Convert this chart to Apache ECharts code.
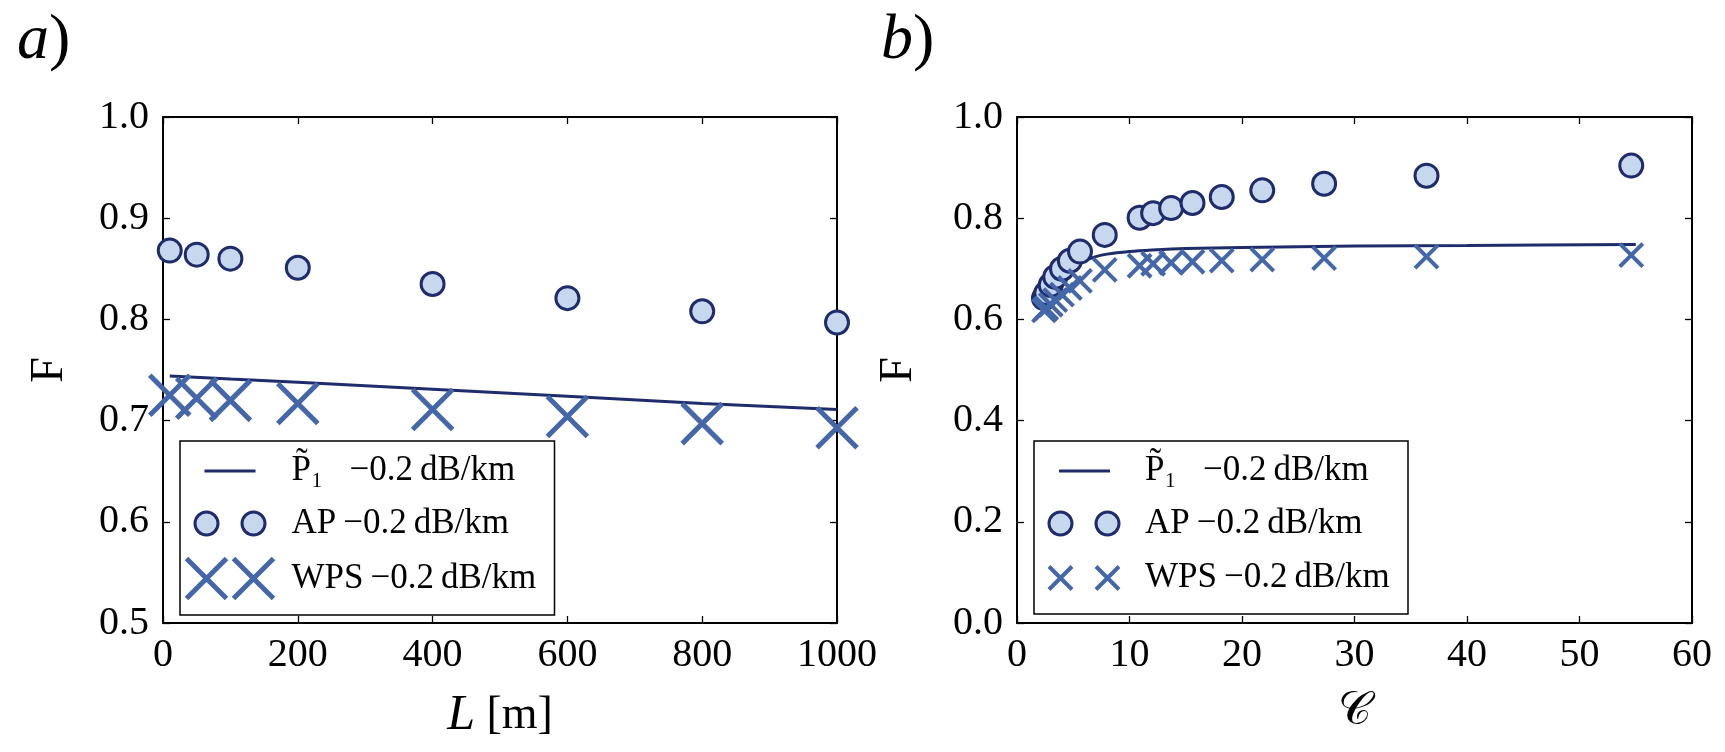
<!DOCTYPE html>
<html>
<head>
<meta charset="utf-8">
<script src="https://cdn.jsdelivr.net/npm/echarts@6/dist/echarts.min.js"></script>
<style>
  html, body { margin: 0; padding: 0; background: #fff; }
  #chart { width: 1725px; height: 752px; }
</style>
</head>
<body>
<div id="chart"></div>
<script>
// ---------- data ----------
const leftL      = [10, 50, 100, 200, 400, 600, 800, 1000];
const leftAP     = [0.868, 0.864, 0.860, 0.851, 0.835, 0.821, 0.808, 0.797];
const leftWPS    = [0.725, 0.722, 0.720, 0.717, 0.711, 0.704, 0.697, 0.693];
const leftLineL  = [10, 100, 200, 400, 600, 800, 1000];
const leftLineF  = [0.744, 0.741, 0.738, 0.731, 0.724, 0.717, 0.711];

const rightC     = [2.4, 2.6, 3.0, 3.4, 4.0, 4.7, 5.6, 7.8, 10.9, 12.1, 13.7, 15.6, 18.2, 21.8, 27.3, 36.4, 54.6];
const rightAP    = [0.642, 0.652, 0.668, 0.684, 0.700, 0.716, 0.734, 0.767, 0.801, 0.810, 0.820, 0.830, 0.842, 0.855, 0.868, 0.884, 0.904];
const rightWPS   = [0.618, 0.622, 0.629, 0.638, 0.649, 0.662, 0.676, 0.698, 0.706, 0.710, 0.712, 0.714, 0.716, 0.718, 0.721, 0.724, 0.727];
const rightLineC = [2.4, 3.0, 3.5, 4.0, 5.0, 6.0, 7.0, 8.0, 10, 12, 15, 20, 30, 40, 55];
const rightLineF = [0.632, 0.656, 0.672, 0.686, 0.704, 0.716, 0.724, 0.729, 0.734, 0.737, 0.740, 0.742, 0.745, 0.746, 0.748];

const leftXTicks  = {min: 0, max: 1000, interval: 200};
const leftYTicks  = {min: 0.5, max: 1.0, interval: 0.1};
const rightXTicks = {min: 0, max: 60, interval: 10};
const rightYTicks = {min: 0, max: 1.0, interval: 0.2};

const legendLabels = {
  P1: '{t|P\u0303\u2081}   \u22120.2\u2009dB/km',
  AP: '{t|AP}\u2009\u22120.2\u2009dB/km',
  WPS: '{t|WPS}\u2009\u22120.2\u2009dB/km'
};

// ---------- styles ----------
const SERIF = "'Liberation Serif', 'DejaVu Serif', serif";
const NAVY = '#1f2c6b';
const CIRCLE_FILL = '#c7d7ee';
const CROSS = '#4467aa';
const CROSS_PATH = 'path://M0,0L10,10M10,0L0,10';

function pairZip(xs, ys) { return xs.map((x, i) => [x, ys[i]]); }

function axisSet(grid, t, isX, withLabel, pos, name, nameGap, nameRich) {
  const a = {
    type: 'value', gridIndex: grid, position: pos,
    min: t.min, max: t.max, interval: t.interval,
    axisLine: {show: true, onZero: false, lineStyle: {color: '#000', width: 2}},
    axisTick: {show: true, inside: true, length: 7, lineStyle: {color: '#000', width: 1.3}},
    axisLabel: {show: withLabel, color: '#000', fontFamily: SERIF, fontSize: 40,
      margin: isX ? 12 : 14,
      formatter: isX ? (v => String(Math.round(v))) : (v => v.toFixed(1))},
    splitLine: {show: false}
  };
  if (name) {
    a.name = name;
    a.nameLocation = 'middle';
    a.nameGap = nameGap;
    a.nameTextStyle = {color: '#000', fontFamily: SERIF, fontSize: 46, rich: nameRich || {}};
  }
  return a;
}

const italicRich = {
  i: {fontStyle: 'italic', fontFamily: SERIF, fontSize: 50, color: '#000'},
  c: {fontFamily: "'DejaVu Sans', 'DejaVu Serif', 'Noto Sans', serif", fontSize: 46, color: '#000'}
};

const option = {
  animation: false,
  backgroundColor: '#fff',
  title: [
    {text: '{i|a})', left: 12, top: 4,
     textStyle: {fontFamily: SERIF, fontSize: 64, fontWeight: 'normal', color: '#000',
       rich: {i: {fontStyle: 'italic', fontFamily: SERIF, fontSize: 64, color: '#000'}}}},
    {text: '{i|b})', left: 876, top: 4,
     textStyle: {fontFamily: SERIF, fontSize: 64, fontWeight: 'normal', color: '#000',
       rich: {i: {fontStyle: 'italic', fontFamily: SERIF, fontSize: 64, color: '#000'}}}}
  ],
  grid: [
    {left: 163, top: 117, width: 674, height: 506},
    {left: 1017, top: 117, width: 675, height: 506}
  ],
  xAxis: [
    axisSet(0, leftXTicks, true, true, 'bottom', '{i|L} [m]', 68, italicRich),
    axisSet(0, leftXTicks, true, false, 'top'),
    axisSet(1, rightXTicks, true, true, 'bottom', '{c|\uD835\uDC9E}', 66, italicRich),
    axisSet(1, rightXTicks, true, false, 'top')
  ],
  yAxis: [
    axisSet(0, leftYTicks, false, true, 'left', 'F', 90),
    axisSet(0, leftYTicks, false, false, 'right'),
    axisSet(1, rightYTicks, false, true, 'left', 'F', 95),
    axisSet(1, rightYTicks, false, false, 'right')
  ],
  legend: [
    {
      left: 180, top: 441, orient: 'vertical', selectedMode: false,
      itemWidth: 90, itemHeight: 42, itemGap: 9,
      padding: [9, 3, 13, 3],
      borderColor: '#000', borderWidth: 1.5, backgroundColor: '#fff',
      formatter: n => legendLabels[n.slice(1)],
      textStyle: {fontFamily: SERIF, fontSize: 35, color: '#000', width: 260, lineHeight: 40,
        padding: [0, 0, 0, 11], rich: {t: {fontFamily: SERIF, fontSize: 35, color: '#000'}}},
      data: [
        {name: 'aP1', icon: 'path://M0,0M90,42M19,19.5L70,19.5L70,22.5L19,22.5Z',
         itemStyle: {color: NAVY, borderWidth: 0}},
        {name: 'aAP', icon: 'path://M0,0M90,42M9.5,21a11.5,11.5 0 1,0 23,0a11.5,11.5 0 1,0 -23,0ZM56.5,21a11.5,11.5 0 1,0 23,0a11.5,11.5 0 1,0 -23,0Z',
         itemStyle: {color: CIRCLE_FILL, borderColor: NAVY, borderWidth: 3}},
        {name: 'aWPS', icon: 'path://M0,0M90,42M1,1L41,41M41,1L1,41M48,1L88,41M88,1L48,41',
         itemStyle: {color: 'transparent', borderColor: CROSS, borderWidth: 5}}
      ]
    },
    {
      left: 1034, top: 441, orient: 'vertical', selectedMode: false,
      itemWidth: 74, itemHeight: 42, itemGap: 9,
      padding: [9, 3, 13, 11],
      borderColor: '#000', borderWidth: 1.5, backgroundColor: '#fff',
      formatter: n => legendLabels[n.slice(1)],
      textStyle: {fontFamily: SERIF, fontSize: 35, color: '#000', width: 260, lineHeight: 40,
        padding: [0, 0, 0, 19], rich: {t: {fontFamily: SERIF, fontSize: 35, color: '#000'}}},
      data: [
        {name: 'bP1', icon: 'path://M0,0M74,42M12,19.5L63,19.5L63,22.5L12,22.5Z',
         itemStyle: {color: NAVY, borderWidth: 0}},
        {name: 'bAP', icon: 'path://M0,0M74,42M2,21a11.5,11.5 0 1,0 23,0a11.5,11.5 0 1,0 -23,0ZM49,21a11.5,11.5 0 1,0 23,0a11.5,11.5 0 1,0 -23,0Z',
         itemStyle: {color: CIRCLE_FILL, borderColor: NAVY, borderWidth: 3}},
        {name: 'bWPS', icon: 'path://M0,0M74,42M2,9.5L25,32.5M25,9.5L2,32.5M49,9.5L72,32.5M72,9.5L49,32.5',
         itemStyle: {color: 'transparent', borderColor: CROSS, borderWidth: 4}}
      ]
    }
  ],
  series: [
    {name: 'aP1', type: 'line', xAxisIndex: 0, yAxisIndex: 0, data: pairZip(leftLineL, leftLineF),
     showSymbol: false, symbol: 'none', lineStyle: {color: NAVY, width: 3}, itemStyle: {color: NAVY}, z: 2},
    {name: 'aAP', type: 'scatter', xAxisIndex: 0, yAxisIndex: 0, data: pairZip(leftL, leftAP),
     symbol: 'circle', symbolSize: 23, itemStyle: {color: CIRCLE_FILL, borderColor: NAVY, borderWidth: 3, opacity: 1}, z: 3},
    {name: 'aWPS', type: 'scatter', xAxisIndex: 0, yAxisIndex: 0, data: pairZip(leftL, leftWPS),
     symbol: CROSS_PATH, symbolSize: 40, itemStyle: {color: 'transparent', borderColor: CROSS, borderWidth: 5, opacity: 1}, z: 4},

    {name: 'bP1', type: 'line', xAxisIndex: 2, yAxisIndex: 2, data: pairZip(rightLineC, rightLineF),
     showSymbol: false, symbol: 'none', smooth: 0.3, lineStyle: {color: NAVY, width: 3}, itemStyle: {color: NAVY}, z: 2},
    {name: 'bAP', type: 'scatter', xAxisIndex: 2, yAxisIndex: 2, data: pairZip(rightC, rightAP),
     symbol: 'circle', symbolSize: 23, itemStyle: {color: CIRCLE_FILL, borderColor: NAVY, borderWidth: 3, opacity: 1}, z: 3},
    {name: 'bWPS', type: 'scatter', xAxisIndex: 2, yAxisIndex: 2, data: pairZip(rightC, rightWPS),
     symbol: CROSS_PATH, symbolSize: 23, itemStyle: {color: 'transparent', borderColor: CROSS, borderWidth: 4, opacity: 1}, z: 4}
  ]
};

const chart = echarts.init(document.getElementById('chart'), null, {renderer: 'canvas'});
chart.setOption(option);
</script>
</body>
</html>
